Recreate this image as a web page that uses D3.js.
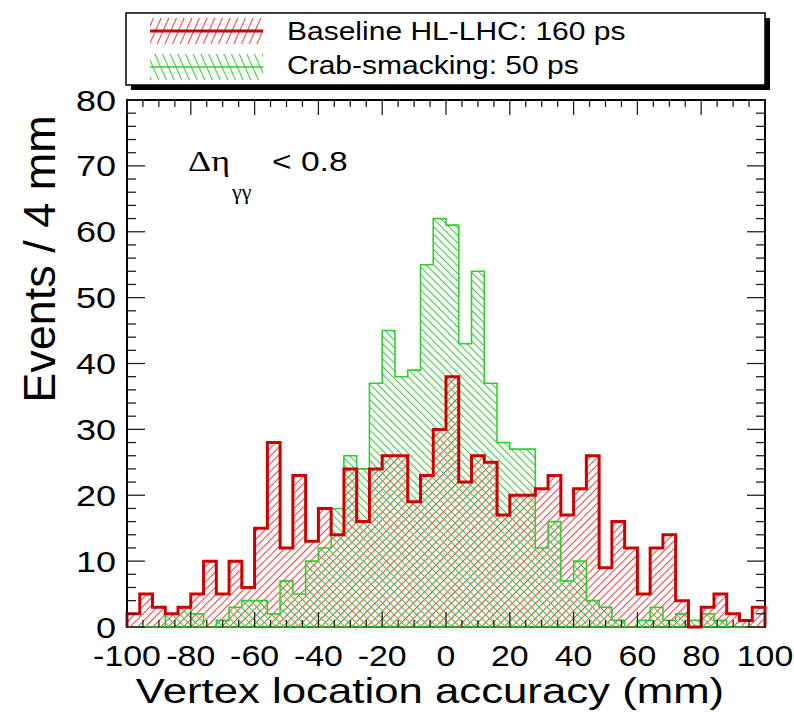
<!DOCTYPE html>
<html>
<head>
<meta charset="utf-8">
<script src="https://cdn.jsdelivr.net/npm/d3@7"></script>
<style>
  html, body { margin: 0; padding: 0; background: #ffffff; }
  svg { display: block; }
</style>
</head>
<body>
<div id="chart"></div>
<script>
// ---------- data ----------
const xMin = -100, xMax = 100, binWidth = 4;
const baselineCounts = [2, 5, 3, 2, 3, 5, 10, 5, 10, 6, 15, 28, 12, 23, 13, 18, 14, 24, 16, 24,
  26, 26, 19, 23, 30, 38, 22, 26, 25, 17, 20, 20, 21, 23, 17, 21, 26, 9, 16, 12,
  5, 12, 14, 4, 0, 3, 5, 2, 1, 3];
const crabCounts = [0, 0, 0, 2, 3, 2, 0, 1, 3, 4, 4, 2, 7, 5, 10, 12, 18, 26, 24, 37,
  45, 38, 39, 55, 62, 61, 43, 54, 37, 28, 27, 27, 12, 16, 7, 10, 4, 3, 1, 0,
  1, 3, 1, 2, 1, 2, 1, 0, 0, 0];
const xTickLabels = [-100, -80, -60, -40, -20, 0, 20, 40, 60, 80, 100];
const yTickLabels = [0, 10, 20, 30, 40, 50, 60, 70, 80];
const legendLabels = ["Baseline HL-LHC: 160 ps", "Crab-smacking: 50 ps"];

// ---------- layout ----------
const width = 794, height = 715;
const plot = { left: 127, right: 765, top: 100, bottom: 627 };
const font = "'Liberation Sans', Arial, Helvetica, sans-serif";
const greekFont = "'Liberation Serif', 'DejaVu Serif', serif";
const stretch = 1.2; // reference text is a bit wide

const redLine = "#cc0000", redHatch = "#e44a4a";
const greenLine = "#33cc33", greenHatch = "#44c844";

const svg = d3.select("#chart").append("svg")
  .attr("width", width)
  .attr("height", height);

const defs = svg.append("defs");

// hatch patterns: rotated stripes, "/" for red, "\" for green
function hatch(id, color, gap, angle) {
  const p = defs.append("pattern")
    .attr("id", id)
    .attr("patternUnits", "userSpaceOnUse")
    .attr("width", gap)
    .attr("height", 20)
    .attr("patternTransform", `rotate(${angle})`);
  p.append("rect")
    .attr("x", 0).attr("y", 0)
    .attr("width", 1.1).attr("height", 20)
    .attr("fill", color);
}
hatch("hRed", redHatch, 5.4, 45);
hatch("hGreen", greenHatch, 5.4, -45);
hatch("hRedLeg", redHatch, 7, 24);
hatch("hGreenLeg", greenHatch, 7, -24);

const x = d3.scaleLinear().domain([xMin, xMax]).range([plot.left, plot.right]);
const y = d3.scaleLinear().domain([0, 80]).range([plot.bottom, plot.top]);

const edges = d3.range(xMin, xMax + binWidth / 2, binWidth);

function stepPoints(counts) {
  const pts = [[edges[0], 0]];
  counts.forEach((c, i) => {
    pts.push([edges[i], c]);
    pts.push([edges[i + 1], c]);
  });
  pts.push([edges[edges.length - 1], 0]);
  return pts;
}
const line = d3.line().x(d => x(d[0])).y(d => y(d[1]));

// ---------- frame ----------
svg.append("rect")
  .attr("x", plot.left).attr("y", plot.top)
  .attr("width", plot.right - plot.left)
  .attr("height", plot.bottom - plot.top)
  .attr("fill", "none")
  .attr("stroke", "#000")
  .attr("stroke-width", 2);

// ---------- histograms ----------
const redPts = stepPoints(baselineCounts);
const greenPts = stepPoints(crabCounts);

svg.append("path").attr("d", line(redPts) + "Z")
  .attr("fill", "url(#hRed)").attr("stroke", "none");
svg.append("path").attr("d", line(greenPts) + "Z")
  .attr("fill", "url(#hGreen)").attr("stroke", "none");
svg.append("path").attr("d", line(greenPts) + "Z")
  .attr("fill", "none").attr("stroke", greenLine).attr("stroke-width", 1.6);
svg.append("path").attr("d", line(redPts))
  .attr("fill", "none").attr("stroke", redLine).attr("stroke-width", 3)
  .attr("stroke-linejoin", "miter");

// ---------- ticks ----------
const ticks = svg.append("g").attr("stroke", "#222").attr("stroke-width", 1.3);
d3.range(xMin, xMax + 1, 5).forEach(v => {
  const len = v % 20 === 0 ? 15 : 7;
  ticks.append("line").attr("x1", x(v)).attr("x2", x(v))
    .attr("y1", plot.bottom).attr("y2", plot.bottom - len);
  ticks.append("line").attr("x1", x(v)).attr("x2", x(v))
    .attr("y1", plot.top).attr("y2", plot.top + len);
});
d3.range(0, 81, 2).forEach(v => {
  const len = v % 10 === 0 ? 18 : 9;
  ticks.append("line").attr("y1", y(v)).attr("y2", y(v))
    .attr("x1", plot.left).attr("x2", plot.left + len);
  ticks.append("line").attr("y1", y(v)).attr("y2", y(v))
    .attr("x1", plot.right).attr("x2", plot.right - len);
});

// ---------- labels ----------
function label(tx, ty, str, size, anchor, sx, family) {
  return svg.append("text")
    .attr("transform", `translate(${tx},${ty}) scale(${sx == null ? stretch : sx},1)`)
    .attr("text-anchor", anchor)
    .attr("font-family", family || font)
    .attr("font-size", size)
    .attr("fill", "#000")
    .text(str);
}

yTickLabels.forEach(v => label(116, y(v) + 10.5, String(v), 30, "end"));
xTickLabels.forEach(v => label(x(v), 666, String(v), 30, "middle", 1.13));

label(430, 703, "Vertex location accuracy (mm)", 35, "middle", 1.25);

svg.append("text")
  .attr("transform", "translate(55,259) rotate(-90)")
  .attr("text-anchor", "middle")
  .attr("font-family", font)
  .attr("font-size", 45)
  .attr("fill", "#000")
  .text("Events / 4 mm");

// annotation
label(188, 171, "\u0394\u03b7", 30, "start", 1.2, greekFont);
label(232, 199, "\u03b3\u03b3", 20, "start", 1.1, greekFont);
label(272, 171, "< 0.8", 28, "start");

// ---------- legend ----------
const leg = { x: 126, y: 13, w: 639, h: 72 };
svg.append("rect")
  .attr("x", leg.x + 5).attr("y", leg.y + 5)
  .attr("width", leg.w).attr("height", leg.h)
  .attr("fill", "#000");
svg.append("rect")
  .attr("x", leg.x).attr("y", leg.y)
  .attr("width", leg.w).attr("height", leg.h)
  .attr("fill", "#fff").attr("stroke", "#000").attr("stroke-width", 1.5);

const legendRows = [
  { top: 18, fill: "url(#hRedLeg)", color: redLine, lw: 3, text: legendLabels[0], base: 40 },
  { top: 54, fill: "url(#hGreenLeg)", color: greenLine, lw: 1.6, text: legendLabels[1], base: 74 }
];
legendRows.forEach(r => {
  svg.append("rect")
    .attr("x", 150).attr("y", r.top)
    .attr("width", 113).attr("height", 26)
    .attr("fill", r.fill);
  svg.append("line")
    .attr("x1", 150).attr("x2", 263)
    .attr("y1", r.top + 13).attr("y2", r.top + 13)
    .attr("stroke", r.color).attr("stroke-width", r.lw);
  label(287, r.base, r.text, 25, "start");
});
</script>
</body>
</html>
